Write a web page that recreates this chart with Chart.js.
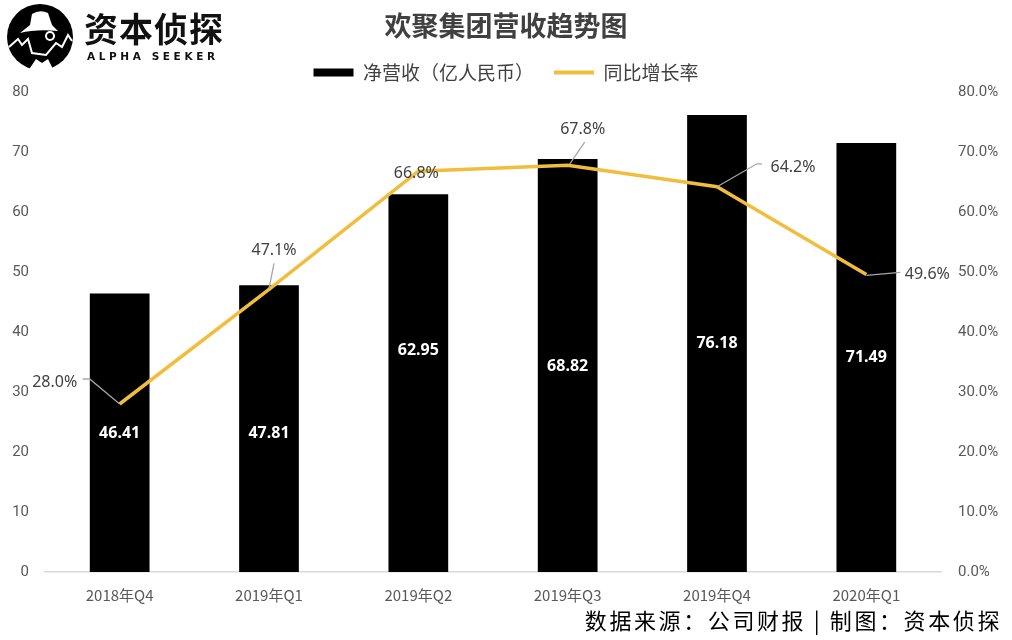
<!DOCTYPE html>
<html>
<head>
<meta charset="utf-8">
<script src="https://cdn.jsdelivr.net/npm/chart.js@4.4.1/dist/chart.umd.min.js"></script>
<style>
  html, body { margin: 0; padding: 0; background: #fff; }
  #wrap { position: relative; width: 1012px; height: 640px; overflow: hidden; }
  #chart { position: absolute; left: 0; top: 0; }
  .logo { position: absolute; left: 6px; top: 3px; }
  .brand { position: absolute; left: 84px; top: 6px; font-family: "Noto Sans CJK SC"; font-weight: 700;
           font-size: 34px; color: #111; letter-spacing: 1px; line-height: 44px; }
  .brand-en { position: absolute; left: 87px; top: 50px; font-family: "DejaVu Sans"; font-weight: 700;
              font-size: 10.5px; color: #111; letter-spacing: 3.6px; }
  .source { position: absolute; right: 10px; top: 603px; font-family: "Noto Sans CJK SC";
            font-size: 22px; color: #000; letter-spacing: 2.6px; }
</style>
</head>
<body>
<div id="wrap">
  <canvas id="chart" width="1012" height="640"></canvas>
  <svg class="logo" width="70" height="70" viewBox="0 0 70 70">
    <circle cx="34" cy="34" r="33" fill="#000"/>
    <path d="M14 30 Q30 26 52 28 L46 22 L42 10 Q34 6 26 11 L24 22 Z" fill="#fff"/>
    <path d="M3 44 L12 36 L16 42 L22 36 L26 50 L40 52 L50 40 L56 44 L62 32 L66 38" stroke="#fff" stroke-width="2" fill="none"/>
    <circle cx="44" cy="33" r="5" fill="#fff"/>
    <circle cx="44" cy="33" r="3" fill="#000"/>
    <path d="M22 68 L30 56 L36 60 L42 56 L48 68 Z" fill="#fff"/>
  </svg>
  <div class="brand">资本侦探</div>
  <div class="brand-en">ALPHA SEEKER</div>
  <div class="source">数据来源：公司财报 | 制图：资本侦探</div>
</div>
<script>
// quarters on the x axis
const quarters = ['2018年Q4', '2019年Q1', '2019年Q2', '2019年Q3', '2019年Q4', '2020年Q1'];
// net revenue, 100 million RMB
const revenue = [46.41, 47.81, 62.95, 68.82, 76.18, 71.49];
// year-on-year growth, percent
const growth = [28.0, 47.1, 66.8, 67.8, 64.2, 49.6];

const gold = '#F0BE3C';
const tickGrey = '#595959';

// where the % labels sit relative to their point, and the elbows of the leader lines
const growthLabelShift = [[-65, -22], [5, -39], [-2, 2], [15, -36], [76, -19], [61, 0]];
const growthLeaders = [
  [[0, 0], [-30, -25], [-37, -25]],
  [[0, -1], [5, -26]],
  [],
  [[2, -1], [17, -23]],
  [[0, 0], [40, -23], [45, -23]],
  [[0, 1], [34, -2]],
];
// small vertical nudges for the bar value labels
const revenueLabelShift = [1, 5, -33, 1, 0, 0];

const labelsPlugin = {
  id: 'valueLabels',
  afterDatasetsDraw(chart) {
    const ctx = chart.ctx;
    ctx.save();

    // white numbers inside the bars
    const bars = chart.getDatasetMeta(0).data;
    ctx.font = 'bold 16px "Noto Sans"';
    ctx.fillStyle = '#fff';
    ctx.textAlign = 'center';
    ctx.textBaseline = 'middle';
    bars.forEach((bar, i) => {
      const y = (bar.y + bar.base) / 2 + revenueLabelShift[i];
      ctx.fillText(revenue[i].toFixed(2), bar.x, y);
    });

    // growth labels with grey leader lines
    const pts = chart.getDatasetMeta(1).data;
    pts.forEach((p, i) => {
      const lead = growthLeaders[i];
      if (lead.length) {
        ctx.beginPath();
        ctx.strokeStyle = '#A6A6A6';
        ctx.lineWidth = 1.3;
        lead.forEach(([dx, dy], k) => {
          if (k === 0) ctx.moveTo(p.x + dx, p.y + dy);
          else ctx.lineTo(p.x + dx, p.y + dy);
        });
        ctx.stroke();
      }
      ctx.font = '16px "Noto Sans"';
      ctx.fillStyle = '#404040';
      ctx.fillText(growth[i].toFixed(1) + '%', p.x + growthLabelShift[i][0], p.y + growthLabelShift[i][1]);
    });
    ctx.restore();
  }
};

new Chart(document.getElementById('chart'), {
  data: {
    labels: quarters,
    datasets: [
      {
        type: 'bar',
        label: '净营收（亿人民币）',
        data: revenue,
        backgroundColor: '#000',
        borderWidth: 0,
        categoryPercentage: 0.8,
        barPercentage: 0.5,
        yAxisID: 'y',
        order: 1
      },
      {
        type: 'line',
        label: '同比增长率',
        data: growth,
        borderColor: gold,
        backgroundColor: gold,
        borderWidth: 3.5,
        pointRadius: 0,
        tension: 0,
        yAxisID: 'y1',
        order: 0
      }
    ]
  },
  options: {
    responsive: false,
    animation: false,
    devicePixelRatio: 1,
    layout: { padding: { left: 0, right: 0, top: 0, bottom: 22 } },
    plugins: {
      tooltip: { enabled: false },
      title: {
        display: true,
        text: '欢聚集团营收趋势图',
        color: '#404040',
        font: { family: '"Noto Sans CJK SC"', size: 27, weight: 'bold', lineHeight: 1 },
        padding: { top: 12, bottom: 4 }
      },
      legend: {
        position: 'top',
        labels: {
          font: { family: '"Noto Sans CJK SC"', size: 19 },
          color: '#404040',
          usePointStyle: true,
          pointStyleWidth: 40,
          boxHeight: 8,
          padding: 20,
          generateLabels(chart) {
            return chart.data.datasets.map((ds, i) => ({
              text: ds.label,
              fillStyle: ds.type === 'bar' ? '#000' : gold,
              strokeStyle: ds.type === 'bar' ? '#000' : gold,
              lineWidth: ds.type === 'bar' ? 0 : 4,
              pointStyle: ds.type === 'bar' ? 'rect' : 'line',
              fontColor: '#404040',
              datasetIndex: i
            }));
          }
        }
      }
    },
    scales: {
      x: {
        grid: { display: false, drawTicks: false },
        border: { color: '#D9D9D9', width: 1.5 },
        ticks: { color: tickGrey, padding: 14, font: { family: '"Noto Sans CJK SC"', size: 15 } }
      },
      y: {
        position: 'left',
        min: 0, max: 80,
        grid: { display: false, drawTicks: false },
        border: { display: false },
        ticks: { stepSize: 10, padding: 16, color: tickGrey, font: { family: 'Roboto', size: 15 } },
        afterFit(scale) { scale.width = 45; }
      },
      y1: {
        position: 'right',
        min: 0, max: 80,
        grid: { display: false, drawTicks: false },
        border: { display: false },
        ticks: {
          stepSize: 10, padding: 17, color: tickGrey, font: { family: 'Roboto', size: 15 },
          callback: v => v.toFixed(1) + '%'
        },
        afterFit(scale) { scale.width = 71; }
      }
    }
  },
  plugins: [labelsPlugin]
});
</script>
</body>
</html>
